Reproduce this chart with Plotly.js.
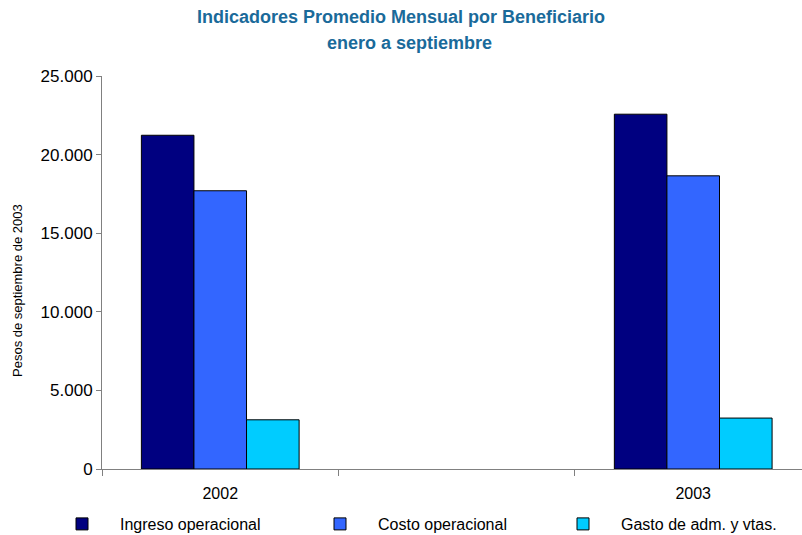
<!DOCTYPE html>
<html>
<head>
<meta charset="utf-8">
<script src="https://cdn.plot.ly/plotly-3.0.1.min.js"></script>
<style>html,body{margin:0;padding:0;background:#fff;}#chart{width:802px;height:535px;}</style>
</head>
<body>
<div id="chart"></div>
<script>
const categories = ["2002", " ", "2003"];
const seriesNames = ["Ingreso operacional", "Costo operacional", "Gasto de adm. y vtas."];
const ingreso = [21230, null, 22570];
const costo = [17700, null, 18650];
const gasto = [3130, null, 3240];
const colors = ["#000080", "#3366FF", "#00CCFF"];
const titleLines = ["Indicadores Promedio Mensual por Beneficiario", "enero a septiembre"];
const yTitle = "Pesos de septiembre de 2003";

const values = [ingreso, costo, gasto];
const legendIds = ["legend", "legend2", "legend3"];
const traces = values.map((v, i) => ({
  type: "bar",
  name: seriesNames[i],
  x: categories,
  y: v,
  legend: legendIds[i],
  marker: { color: colors[i], line: { color: "#000000", width: 1 } },
  hoverinfo: "y"
}));

const W = 802, H = 535;
function legendAt(px) {
  return {
    xref: "container", yref: "container",
    x: px / W, xanchor: "left",
    y: (H - 524) / H, yanchor: "middle",
    itemwidth: 66,
    font: { size: 16 },
    bgcolor: "rgba(0,0,0,0)"
  };
}

const layout = {
  width: W,
  height: H,
  margin: { l: 102, r: 0, t: 76, b: 66, autoexpand: false },
  paper_bgcolor: "#ffffff",
  plot_bgcolor: "#ffffff",
  separators: ",.",
  font: { family: "Liberation Sans, Arial, sans-serif", color: "#000000", size: 15 },
  annotations: [
    { text: "<b>" + titleLines[0] + "</b>", xref: "paper", yref: "paper", x: (401 - 102) / 700, y: 1 + (76 - 17) / 393,
      xanchor: "center", yanchor: "middle", showarrow: false, font: { size: 18, color: "#1A6A9A" } },
    { text: "<b>" + titleLines[1] + "</b>", xref: "paper", yref: "paper", x: (409 - 102) / 700, y: 1 + (76 - 43) / 393,
      xanchor: "center", yanchor: "middle", showarrow: false, font: { size: 18, color: "#1A6A9A" } },
    { text: yTitle, xref: "paper", yref: "paper", x: (17 - 102) / 700, y: (469 - 291) / 393,
      xanchor: "center", yanchor: "middle", textangle: -90, showarrow: false, font: { size: 13, color: "#000000" } }
  ],
  barmode: "group",
  bargap: 0.333,
  bargroupgap: 0,
  showlegend: true,
  legend: legendAt(44),
  legend2: legendAt(302),
  legend3: legendAt(545),
  xaxis: {
    type: "category",
    categoryorder: "array",
    categoryarray: categories,
    range: [-0.5, 2.46],
    tickson: "boundaries",
    ticks: "outside",
    ticklen: 6,
    tickcolor: "#808080",
    ticklabelstandoff: 10,
    showline: true,
    linecolor: "#808080",
    linewidth: 1,
    showgrid: false,
    zeroline: false,
    tickfont: { size: 16 },
    fixedrange: true
  },
  yaxis: {
    range: [0, 25000],
    tickvals: [0, 5000, 10000, 15000, 20000, 25000],
    tickformat: ",d",
    ticks: "outside",
    ticklen: 5,
    tickcolor: "#808080",
    showline: true,
    linecolor: "#808080",
    linewidth: 1,
    showgrid: false,
    zeroline: false,
    tickfont: { size: 17 },
    fixedrange: true
  }
};

Plotly.newPlot("chart", traces, layout, { displayModeBar: false, staticPlot: true });
</script>
</body>
</html>
